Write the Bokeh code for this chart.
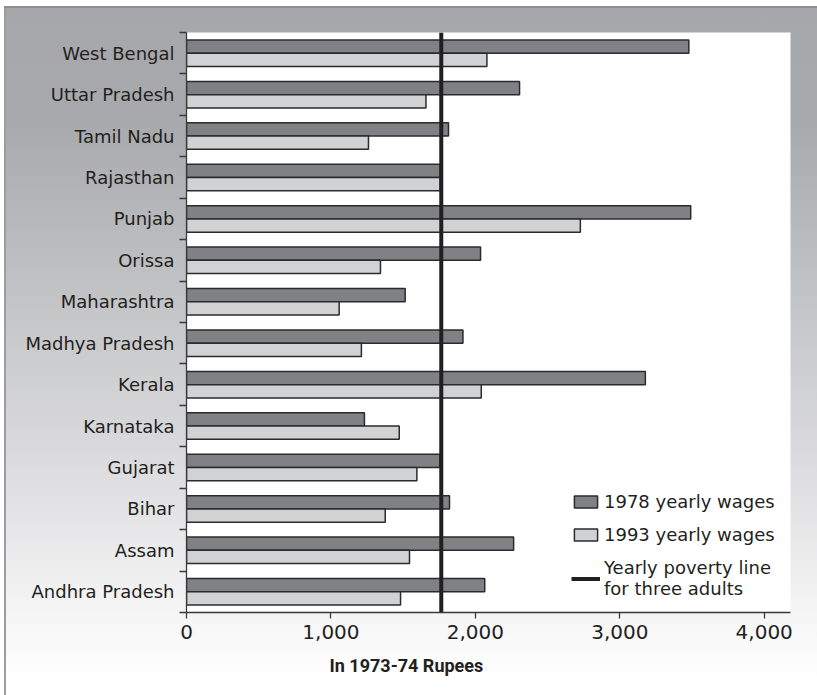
from bokeh.plotting import figure
from bokeh.models import (Range1d, FixedTicker, Legend, LegendItem, Title,
                          ColumnDataSource, NumeralTickFormatter)
from bokeh.embed import file_html
from bokeh.resources import INLINE

# Rural yearly wages by state, in 1973-74 rupees (bottom to top)
states = ["Andhra Pradesh", "Assam", "Bihar", "Gujarat", "Karnataka", "Kerala",
          "Madhya Pradesh", "Maharashtra", "Orissa", "Punjab", "Rajasthan",
          "Tamil Nadu", "Uttar Pradesh", "West Bengal"]
wages_1978 = [2065, 2265, 1821, 1755, 1232, 3177, 1914, 1514, 2036, 3491,
              1757, 1814, 2306, 3478]
wages_1993 = [1482, 1544, 1376, 1595, 1473, 2041, 1211, 1057, 1343, 2727,
              1757, 1260, 1658, 2080]
poverty_line = 1764
x_ticks = [0, 1000, 2000, 3000, 4000]

n = len(states)
centers = [i + 0.5 for i in range(n)]
bar_h = 0.32

src = ColumnDataSource(dict(
    state=states,
    w78=wages_1978,
    w93=wages_1993,
    y78=[c + bar_h / 2 for c in centers],
    y93=[c - bar_h / 2 for c in centers],
))

p = figure(width=817, height=695, output_backend="svg", toolbar_location=None,
           x_range=Range1d(0, 4182), y_range=Range1d(0, n),
           min_border_left=186, min_border_right=27,
           min_border_top=32, min_border_bottom=83)
p.title.visible = False
p.outline_line_color = None
p.border_fill_color = None
p.background_fill_color = "white"
p.xgrid.visible = False
p.ygrid.visible = False

# page backdrop: white margins, thin frame lines, grey-to-white fade
p.styles = {
    "background": (
        "linear-gradient(#ffffff,#ffffff) 0 0 / 100% 6px no-repeat, "
        "linear-gradient(#ffffff,#ffffff) 0 0 / 4px 100% no-repeat, "
        "linear-gradient(#8d8e90,#8d8e90) 4px 6px / 100% 2px no-repeat, "
        "linear-gradient(#9c9d9f,#9c9d9f) 4px 6px / 2px 100% no-repeat, "
        "linear-gradient(to bottom, #a6a7aa 0px, #a8a9ac 120px, "
        "#c3c4c6 300px, #dddddf 470px, #f3f3f4 600px, #ffffff 680px)"
    )
}

dark_fill = "#808184"
light_fill = "#d1d2d4"
edge = "#2b2b2b"

r78 = p.hbar(y="y78", left=0, right="w78", height=bar_h, source=src,
             fill_color=dark_fill, line_color=edge, line_width=1.5)
r93 = p.hbar(y="y93", left=0, right="w93", height=bar_h, source=src,
             fill_color=light_fill, line_color=edge, line_width=1.5)
rpov = p.segment(x0=poverty_line, x1=poverty_line, y0=0, y1=n,
                 line_color="#231f20", line_width=4)

text_color = "#231f20"
axis_color = "#3a3a3a"

# y axis: state names at band centres, short ticks at band boundaries
yax = p.yaxis[0]
yax.ticker = FixedTicker(ticks=centers, minor_ticks=list(range(n + 1)))
yax.major_label_overrides = {c: s for c, s in zip(centers, states)}
yax.major_tick_out = 0
yax.major_tick_in = 0
yax.minor_tick_out = 7
yax.minor_tick_in = 0
yax.minor_tick_line_color = axis_color
yax.minor_tick_line_width = 1.3
yax.axis_line_color = axis_color
yax.axis_line_width = 1.3
yax.major_label_standoff = 5
yax.major_label_text_font = "DejaVu Sans"
yax.major_label_text_font_size = "18px"
yax.major_label_text_color = text_color

xax = p.xaxis[0]
xax.ticker = FixedTicker(ticks=x_ticks)
xax.formatter = NumeralTickFormatter(format="0,0")
xax.major_tick_out = 6
xax.major_tick_in = 0
xax.major_tick_line_color = axis_color
xax.major_tick_line_width = 1.3
xax.minor_tick_line_color = None
xax.axis_line_color = axis_color
xax.axis_line_width = 1.3
xax.major_label_standoff = 6
xax.major_label_text_font = "DejaVu Sans"
xax.major_label_text_font_size = "20px"
xax.major_label_text_color = text_color

# unit caption under the value axis, centred on the page
p.add_layout(Title(text="In 1973-74 Rupees", align="left", offset=143,
                   text_font="Roboto", text_font_style="bold",
                   text_font_size="18px", text_color=text_color,
                   standoff=22), "below")

legend = Legend(
    items=[
        LegendItem(label="1978 yearly wages", renderers=[r78]),
        LegendItem(label="1993 yearly wages", renderers=[r93]),
        LegendItem(label="Yearly poverty line\nfor three adults", renderers=[rpov]),
    ],
    location=(385, 13),
    glyph_width=29, glyph_height=15, label_standoff=4, spacing=12,
    padding=0, margin=0,
    border_line_color=None, background_fill_alpha=0,
    label_text_font="DejaVu Sans", label_text_font_size="18px",
    label_text_color=text_color, label_text_line_height=1.1,
)
p.add_layout(legend)

open("out.html", "w").write(file_html(p, INLINE))
